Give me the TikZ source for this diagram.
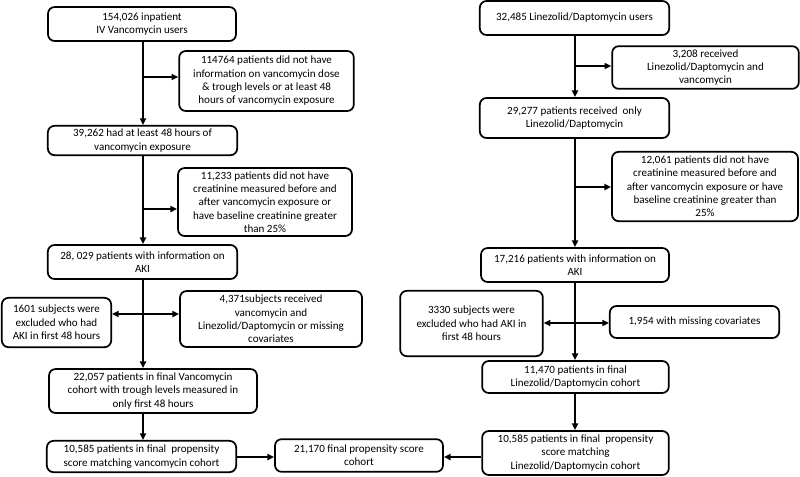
\documentclass[tikz,border=0pt]{standalone}
\usepackage{fontspec}
\setmainfont{Carlito}
\usetikzlibrary{arrows.meta}

\tikzset{every picture/.style={line width=0.75pt}}
\tikzset{
  flowbox/.style={draw, rounded corners=5pt, line width=1.3pt, align=center, inner sep=1pt,
    font=\fontsize{8.3}{10}\selectfont},
  flowline/.style={line width=1.4pt, -{Triangle[length=5pt,width=4.5pt]}},
  flowboth/.style={line width=1.4pt, {Triangle[length=5pt,width=4.5pt]}-{Triangle[length=5pt,width=4.5pt]}}
}

\begin{document}
\begin{tikzpicture}[x=0.75pt,y=0.75pt,yscale=-1,xscale=1]
	\useasboundingbox (0,0) rectangle (800,476);

	% Vancomycin arm
	\node[flowbox, minimum width=141pt, minimum height=25.5pt] (vanUsers) at (142,24) {154,026 inpatient\\IV Vancomycin users};
	\node[flowbox, minimum width=131pt, minimum height=45pt] (vanNoDose) at (266.5,81) {114764 patients did not have\\information on vancomycin dose\\\& trough levels or at least 48\\hours of vancomycin exposure};
	\node[flowbox, minimum width=142pt, minimum height=22pt] (vanExpo) at (142.5,140.5) {39,262 had at least 48 hours of\\vancomycin exposure};
	\node[flowbox, minimum width=130.5pt, minimum height=51pt] (vanNoCreat) at (265,202) {11,233 patients did not have\\creatinine measured before and\\after vancomycin exposure or\\have baseline creatinine greater\\than 25\%};
	\node[flowbox, minimum width=142pt, minimum height=25.5pt] (vanAki) at (142.5,262) {28, 029 patients with information on\\AKI};
	\node[flowbox, minimum width=82pt, minimum height=37pt] (vanEarlyAki) at (56.5,322.5) {1601 subjects were\\excluded who had\\AKI in first 48 hours};
	\node[flowbox, minimum width=136.5pt, minimum height=42pt] (vanMissing) at (271,319) {4,371subjects received\\vancomycin and\\Linezolid/Daptomycin or missing\\covariates};
	\node[flowbox, minimum width=156pt, minimum height=33pt] (vanFinal) at (153,391) {22,057 patients in final Vancomycin\\cohort with trough levels measured in\\only first 48 hours};
	\node[flowbox, minimum width=142pt, minimum height=23.5pt] (vanMatch) at (141.5,456.5) {10,585 patients in final\ \ propensity\\score matching vancomycin cohort};

	% Pooled cohort
	\node[flowbox, minimum width=126pt, minimum height=24.5pt] (pooled) at (359,455.5) {21,170 final propensity score\\cohort};

	% Linezolid/Daptomycin arm
	\node[flowbox, minimum width=142pt, minimum height=25.5pt] (ldUsers) at (574.5,18) {32,485 Linezolid/Daptomycin users};
	\node[flowbox, minimum width=140pt, minimum height=32pt] (ldBoth) at (705.5,67.5) {3,208 received\\Linezolid/Daptomycin and\\vancomycin};
	\node[flowbox, minimum width=142pt, minimum height=30pt] (ldOnly) at (574.5,118) {29,277 patients received\ \ only\\Linezolid/Daptomycin};
	\node[flowbox, minimum width=139.5pt, minimum height=52pt] (ldNoCreat) at (705,186.5) {12,061 patients did not have\\creatinine measured before and\\after vancomycin exposure or have\\baseline creatinine greater than\\25\%};
	\node[flowbox, minimum width=141pt, minimum height=25.5pt] (ldAki) at (575,265) {17,216 patients with information on\\AKI};
	\node[flowbox, minimum width=107pt, minimum height=49pt] (ldEarlyAki) at (471.5,323.5) {3330 subjects were\\excluded who had AKI in\\first 48 hours};
	\node[flowbox, minimum width=127pt, minimum height=24pt] (ldMissing) at (694.5,322) {1,954 with missing covariates};
	\node[flowbox, minimum width=140pt, minimum height=24pt] (ldFinal) at (575.5,377) {11,470 patients in final\\Linezolid/Daptomycin cohort};
	\node[flowbox, minimum width=140pt, minimum height=33pt] (ldMatch) at (575.5,453) {10,585 patients in final\ \ propensity\\score matching\\Linezolid/Daptomycin cohort};

	% branch points
	\coordinate (vanB1) at (143,77);
	\coordinate (vanB2) at (143,209);
	\coordinate (vanB3) at (143,314);
	\coordinate (ldB1) at (575,66);
	\coordinate (ldB2) at (575,187);
	\coordinate (ldB3) at (575,323);
	\coordinate (poolY) at (0,457);

	%Straight Lines (vancomycin trunk)
	\draw[flowline] (vanUsers.south -| vanB1) -- (vanExpo.north -| vanB1);
	\draw[flowline] (vanB1) -- (vanB1 -| vanNoDose.west);
	\draw[flowline] (vanExpo.south -| vanB2) -- (vanAki.north -| vanB2);
	\draw[flowline] (vanB2) -- (vanB2 -| vanNoCreat.west);
	\draw[flowline] (vanAki.south -| vanB3) -- (vanFinal.north -| vanB3);
	\draw[flowboth] (vanB3 -| vanEarlyAki.east) -- (vanB3 -| vanMissing.west);
	\draw[flowline] (vanFinal.south -| vanB3) -- (vanMatch.north -| vanB3);

	%Straight Lines (linezolid/daptomycin trunk)
	\draw[flowline] (ldUsers.south -| ldB1) -- (ldOnly.north -| ldB1);
	\draw[flowline] (ldB1) -- (ldB1 -| ldBoth.west);
	\draw[flowline] (ldOnly.south -| ldB2) -- (ldAki.north -| ldB2);
	\draw[flowline] (ldB2) -- (ldB2 -| ldNoCreat.west);
	\draw[flowline] (ldAki.south -| ldB3) -- (ldFinal.north -| ldB3);
	\draw[flowboth] (ldB3 -| ldEarlyAki.east) -- (ldB3 -| ldMissing.west);
	\draw[flowline] (ldFinal.south -| ldB3) -- (ldMatch.north -| ldB3);

	%Straight Lines (into pooled cohort)
	\draw[flowline] (poolY -| vanMatch.east) -- (poolY -| pooled.west);
	\draw[flowline] (poolY -| ldMatch.west) -- (poolY -| pooled.east);

\end{tikzpicture}
\end{document}
